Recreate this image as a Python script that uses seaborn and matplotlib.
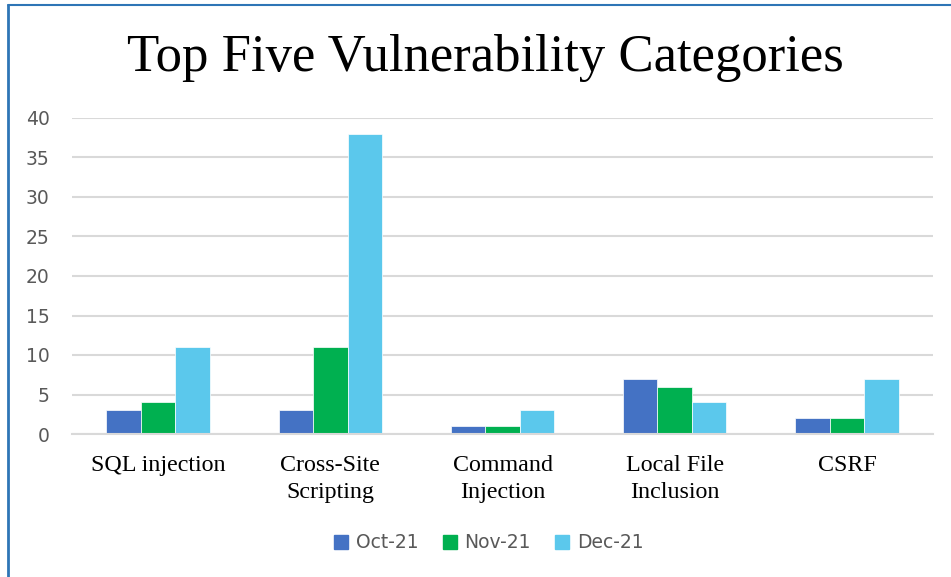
import matplotlib
matplotlib.use("Agg")
import matplotlib.pyplot as plt
from matplotlib.lines import Line2D
import numpy as np
import pandas as pd
import seaborn as sns

# =========================
# データ
# =========================
categories = ["SQL injection", "Cross-Site\nScripting", "Command\nInjection",
              "Local File\nInclusion", "CSRF"]
months = ["Oct-21", "Nov-21", "Dec-21"]
oct_21 = [3, 3, 1, 7, 2]
nov_21 = [4, 11, 1, 6, 2]
dec_21 = [11, 38, 3, 4, 7]
y_ticks = [0, 5, 10, 15, 20, 25, 30, 35, 40]

colors = ["#4472C4", "#00B050", "#5BC8EC"]

rows = []
for m, vals in zip(months, [oct_21, nov_21, dec_21]):
    for c, v in zip(categories, vals):
        rows.append({"category": c, "month": m, "count": v})
df = pd.DataFrame(rows)

# =========================
# 描画
# =========================
sns.set_style("white")
plt.rcParams['font.family'] = ['DejaVu Sans']

fig = plt.figure(figsize=(9.51, 5.77), dpi=100)
ax = fig.add_axes([72 / 951, 1 - 434 / 577, (933 - 72) / 951, (434 - 118) / 577])

sns.barplot(data=df, x="category", y="count", hue="month", order=categories,
            hue_order=months, palette=colors, width=0.6, saturation=1,
            edgecolor="white", linewidth=0.5, ax=ax)

ax.set_ylim(0, 40)
ax.set_yticks(y_ticks)
ax.set_xlim(-0.5, len(categories) - 0.5)
ax.yaxis.grid(True, color="#D9D9D9", linewidth=1.5)
ax.set_axisbelow(True)
for s in ["top", "right", "left"]:
    ax.spines[s].set_visible(False)
ax.spines["bottom"].set_color("#D9D9D9")
ax.spines["bottom"].set_linewidth(1.5)
ax.tick_params(axis="both", length=0)
ax.tick_params(axis="y", labelsize=13.5, labelcolor="#595959", pad=16)
ax.set_xlabel("")
ax.set_ylabel("")
for lbl in ax.get_xticklabels():
    lbl.set_family("Liberation Serif")
    lbl.set_fontsize(17.3)
    lbl.set_color("black")
    lbl.set_linespacing(1.4)
ax.tick_params(axis="x", pad=15)

# 凡例
ax.legend_.remove()
handles = [plt.Rectangle((0, 0), 1, 1, color=c) for c in colors]
fig.legend(handles, months, loc="center", bbox_to_anchor=(489 / 951, 1 - 543 / 577),
           ncol=3, frameon=False, fontsize=13.5, labelcolor="#595959",
           handlelength=0.75, handleheight=0.75, handletextpad=0.4, columnspacing=1.3)

# タイトル
fig.text(485 / 951, 1 - 58 / 577, "Top Five Vulnerability Categories",
         family="Liberation Serif", fontsize=38, color="black", ha="center", va="center")

# 枠線（左・上）
fig.add_artist(Line2D([7.5 / 951, 7.5 / 951], [0, 1 - 5 / 577], color="#2E75B6",
                      linewidth=2, transform=fig.transFigure))
fig.add_artist(Line2D([7.5 / 951, 1], [1 - 5 / 577, 1 - 5 / 577], color="#2E75B6",
                      linewidth=1.5, transform=fig.transFigure))

fig.savefig("out.png", dpi=100)
